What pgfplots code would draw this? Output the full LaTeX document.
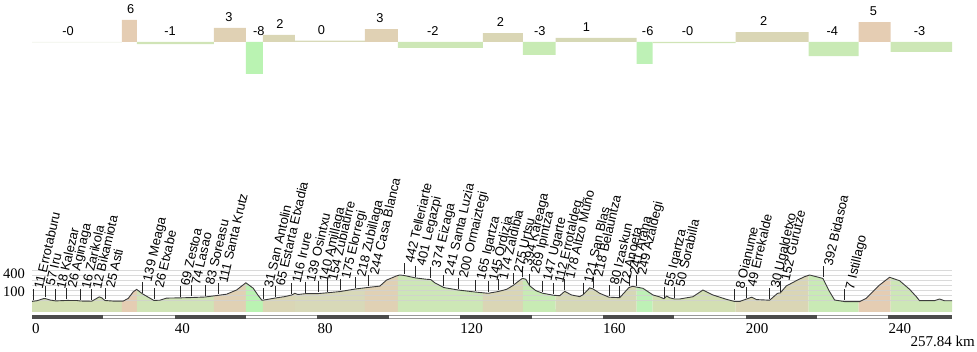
\documentclass[border=0pt]{standalone}
\usepackage{pgfplots}
\pgfplotsset{compat=1.18}
\usepackage{pgfplotstable}
\usepgfplotslibrary{fillbetween}
\usepackage{fontspec}
\setmainfont{Liberation Sans}
\newfontfamily\lserif{Liberation Serif}
\definecolor{cz}{HTML}{D3DFB3}
\definecolor{ct}{HTML}{E5CDB3}
\definecolor{cg1}{HTML}{D0E4B6}
\definecolor{ck3}{HTML}{E0D1B4}
\definecolor{cg8}{HTML}{BAF3B2}
\definecolor{ck2}{HTML}{DAD6B5}
\definecolor{ck0}{HTML}{D8D9B8}
\definecolor{cg2}{HTML}{CDE7B6}
\definecolor{cg3}{HTML}{C8EBB4}
\definecolor{ck1}{HTML}{D6D8B5}
\definecolor{cg6}{HTML}{BEF1B6}
\definecolor{cg4}{HTML}{C9EAB5}
\definecolor{cz0}{HTML}{F0F2EA}
\definecolor{prof}{HTML}{3C3C3C}

\pgfplotstableread{
x a
0.00 10
1.32 20
3.17 55
3.73 57
5.04 33
6.64 18
9.72 26
12.52 25
13.64 16
15.32 15
16.72 12
18.12 60
18.85 85
19.52 70
20.45 25
22.77 15
25.57 15
26.97 60
28.38 170
29.33 210
30.90 139
32.58 80
34.17 26
35.85 30
37.73 65
41.46 69
44.54 74
48.46 83
52.18 111
54.54 130
57.34 200
59.94 320
61.99 230
63.31 115
64.43 30
64.79 31
68.07 65
70.87 90
72.74 116
73.67 145
74.51 125
76.67 139
80.20 140
82.83 154
86.47 175
90.76 218
94.40 244
97.48 265
99.36 365
102.16 435
103.08 450
104.29 442
107.56 401
110.36 380
111.76 374
112.89 320
115.41 241
119.41 200
124.37 165
127.82 145
130.62 174
132.97 210
134.82 275
136.41 350
137.45 394
138.38 380
139.50 269
141.18 190
143.05 147
146.22 112
147.90 105
149.30 178
151.18 117
153.50 90
154.43 121
156.30 235
157.23 218
159.10 145
161.71 80
164.71 72
167.31 241
168.35 262
169.38 249
171.23 228
174.03 117
175.91 85
177.11 55
177.87 100
178.71 70
180.11 50
181.51 50
185.24 88
188.04 200
190.84 117
194.59 45
196.92 8
198.32 8
200.20 49
201.68 80
203.08 40
206.72 30
208.96 145
209.72 152
211.40 267
214.57 367
216.53 422
217.93 450
219.80 422
221.65 392
223.53 172
224.93 33
227.73 7
231.93 5
233.81 62
237.54 283
240.34 412
243.14 355
245.94 212
247.82 90
248.74 22
252.94 22
254.34 50
255.74 20
257.84 20
}\proftab

\pgfplotstableread[col sep=comma]{
x,a,t
0.36,11,11 Errotaburu
3.73,57,57 Iru
6.64,18,18 Kalezar
9.72,26,26 Aginaga
13.64,16,16 Zarikola
16.72,12,12 Bikamiota
20.45,25,25 Asti
30.90,139,139 Meaga
34.17,26,26 Etxabe
41.46,69,69 Zestoa
44.54,74,74 Lasao
48.46,83,83 Soreasu
52.18,111,111 Santa Krutz
64.79,31,31 San Antolin
68.07,65,65 Estarta Etxadia
72.74,116,116 Irure
76.67,139,139 Osintxu
80.20,140,140 Amillaga
82.83,154,154 Zubiaurre
86.47,175,175 Elorregi
90.76,218,218 Zubillaga
94.40,244,244 Casa Blanca
104.29,442,442 Telleriarte
107.56,401,401 Legazpi
111.76,374,374 Eizaga
115.41,241,241 Santa Luzia
119.41,200,200 Ormaiztegi
124.37,165,165 Igartza
127.82,145,145 Ordizia
130.62,174,174 Zaldibia
134.82,275,275 Urtsu
137.45,394,394 Kareaga
139.50,269,269 Ipintza
143.05,147,147 Ugarte
146.22,112,112 Errotaldeg
149.30,178,178 Altzo Muño
154.43,121,121 San Blas
157.23,218,218 Belauntza
161.71,80,80 Izaskun
164.71,72,72 Anoeta
167.31,241,241 Arana
169.38,249,249 Azaldegi
177.11,55,55 Igartza
180.11,50,50 Sorabilla
196.92,8,8 Oianume
200.20,49,49 Errekalde
206.72,30,30 Ugaldetxo
209.72,152,152 Gurutze
221.65,392,392 Bidasoa
227.73,7,7 Istillago
}\labtab

\begin{document}
\begin{tikzpicture}[x=1pt,y=1pt]

% ---------- gradient bars ----------
\begin{axis}[at={(32pt,273pt)}, anchor=south west, scale only axis,
  width=920pt, height=74pt, xmin=0, xmax=257.84, ymin=-10, ymax=10,
  hide axis, clip=false]
\addplot[fill=cz0, draw=none] coordinates {(0,0) (0,-0.15) (25.21,-0.15) (25.21,0)} \closedcycle;
\addplot[fill=ct, draw=none] coordinates {(25.21,0) (25.21,5.95) (29.41,5.95) (29.41,0)} \closedcycle;
\addplot[fill=cg1, draw=none] coordinates {(29.41,0) (29.41,-0.6) (50.98,-0.6) (50.98,0)} \closedcycle;
\addplot[fill=ck3, draw=none] coordinates {(50.98,0) (50.98,3.8) (59.94,3.8) (59.94,0)} \closedcycle;
\addplot[fill=cg8, draw=none] coordinates {(59.94,0) (59.94,-8.6) (64.71,-8.6) (64.71,0)} \closedcycle;
\addplot[fill=ck2, draw=none] coordinates {(64.71,0) (64.71,1.9) (73.67,1.9) (73.67,0)} \closedcycle;
\addplot[fill=ck0, draw=none] coordinates {(73.67,0) (73.67,0.35) (93.28,0.35) (93.28,0)} \closedcycle;
\addplot[fill=ck3, draw=none] coordinates {(93.28,0) (93.28,3.5) (102.52,3.5) (102.52,0)} \closedcycle;
\addplot[fill=cg2, draw=none] coordinates {(102.52,0) (102.52,-1.6) (126.33,-1.6) (126.33,0)} \closedcycle;
\addplot[fill=ck2, draw=none] coordinates {(126.33,0) (126.33,2.4) (137.54,2.4) (137.54,0)} \closedcycle;
\addplot[fill=cg3, draw=none] coordinates {(137.54,0) (137.54,-3.5) (146.78,-3.5) (146.78,0)} \closedcycle;
\addplot[fill=ck1, draw=none] coordinates {(146.78,0) (146.78,1.1) (169.47,1.1) (169.47,0)} \closedcycle;
\addplot[fill=cg6, draw=none] coordinates {(169.47,0) (169.47,-5.9) (173.95,-5.9) (173.95,0)} \closedcycle;
\addplot[fill=cg1, draw=none] coordinates {(173.95,0) (173.95,-0.3) (197.20,-0.3) (197.20,0)} \closedcycle;
\addplot[fill=ck2, draw=none] coordinates {(197.20,0) (197.20,2.7) (217.65,2.7) (217.65,0)} \closedcycle;
\addplot[fill=cg4, draw=none] coordinates {(217.65,0) (217.65,-3.8) (231.65,-3.8) (231.65,0)} \closedcycle;
\addplot[fill=ct, draw=none] coordinates {(231.65,0) (231.65,5.4) (240.62,5.4) (240.62,0)} \closedcycle;
\addplot[fill=cg2, draw=none] coordinates {(240.62,0) (240.62,-2.7) (257.84,-2.7) (257.84,0)} \closedcycle;
\addplot[draw=none, nodes near coords, point meta=explicit symbolic,
  every node near coord/.append style={anchor=base, yshift=6.3pt, inner sep=0pt,
    text=black, font=\fontsize{12.8}{14}\selectfont}] table[meta=l] {
x y l
10.08 0 -0
27.65 5.95 6
38.66 0 -1
55.18 3.8 3
63.59 0 -8
69.47 1.9 2
81.15 0.35 0
97.48 3.5 3
112.32 0 -2
131.29 2.4 2
142.30 0 -3
155.38 1.1 1
172.55 0 -6
183.75 0 -0
205.04 2.7 2
224.29 0 -4
235.85 5.4 5
248.74 0 -3
};
\end{axis}

% ---------- elevation profile ----------
\begin{axis}[at={(32pt,40pt)}, anchor=south west, scale only axis,
  width=920pt, height=40pt, xmin=0, xmax=257.84, ymin=-166.67, ymax=500,
  clip=false, axis line style={draw=none}, ytick=\empty,
  xtick={0,40,...,240}, major tick length=0pt, tick style={draw=none},
  /pgf/number format/assume math mode=true,
  xticklabel style={anchor=base west, inner sep=0pt, yshift=-22pt,
    font=\lserif\fontsize{15}{17}\selectfont}]
\addplot[name path=prof, draw=none] table[x=x, y=a] {\proftab};
\addplot[name path=base, draw=none] coordinates {(0,-166.67) (257.84,-166.67)};
\addplot[fill=cz, draw=none] fill between[of=prof and base, soft clip={domain=0:25.21}];
\addplot[fill=ct, draw=none] fill between[of=prof and base, soft clip={domain=25.21:29.41}];
\addplot[fill=cg1, draw=none] fill between[of=prof and base, soft clip={domain=29.41:50.98}];
\addplot[fill=ck3, draw=none] fill between[of=prof and base, soft clip={domain=50.98:59.94}];
\addplot[fill=cg8, draw=none] fill between[of=prof and base, soft clip={domain=59.94:64.71}];
\addplot[fill=ck2, draw=none] fill between[of=prof and base, soft clip={domain=64.71:73.67}];
\addplot[fill=ck0, draw=none] fill between[of=prof and base, soft clip={domain=73.67:93.28}];
\addplot[fill=ck3, draw=none] fill between[of=prof and base, soft clip={domain=93.28:102.52}];
\addplot[fill=cg2, draw=none] fill between[of=prof and base, soft clip={domain=102.52:126.33}];
\addplot[fill=ck2, draw=none] fill between[of=prof and base, soft clip={domain=126.33:137.54}];
\addplot[fill=cg3, draw=none] fill between[of=prof and base, soft clip={domain=137.54:146.78}];
\addplot[fill=ck1, draw=none] fill between[of=prof and base, soft clip={domain=146.78:169.47}];
\addplot[fill=cg6, draw=none] fill between[of=prof and base, soft clip={domain=169.47:173.95}];
\addplot[fill=cz, draw=none] fill between[of=prof and base, soft clip={domain=173.95:197.20}];
\addplot[fill=ck2, draw=none] fill between[of=prof and base, soft clip={domain=197.20:217.65}];
\addplot[fill=cg4, draw=none] fill between[of=prof and base, soft clip={domain=217.65:231.65}];
\addplot[fill=ct, draw=none] fill between[of=prof and base, soft clip={domain=231.65:240.62}];
\addplot[fill=cg2, draw=none] fill between[of=prof and base, soft clip={domain=240.62:257.84}];
% grid lines
\addplot[black!18, line width=0.8pt, opacity=0.8] coordinates {(0,533) (257.84,533)};
\addplot[black!18, line width=0.8pt, opacity=0.8] coordinates {(0,450) (257.84,450)};
\addplot[black!18, line width=0.8pt, opacity=0.8] coordinates {(0,367) (257.84,367)};
\addplot[black!18, line width=0.8pt, opacity=0.8] coordinates {(0,283) (257.84,283)};
\addplot[black!18, line width=0.8pt, opacity=0.8] coordinates {(0,200) (257.84,200)};
\addplot[black!18, line width=0.8pt, opacity=0.8] coordinates {(0,117) (257.84,117)};
\addplot[black!18, line width=0.8pt, opacity=0.8] coordinates {(0,33) (257.84,33)};
% profile line
\addplot[prof, line width=0.9pt] table[x=x, y=a] {\proftab};
% scale bar
\fill[black!40] (axis cs:0,-216.7) rectangle (axis cs:257.84,-291.7);
\fill[white] (axis cs:0,-238) rectangle (axis cs:257.84,-270);
\fill[black!70] (axis cs:0,-216.7) rectangle (axis cs:20,-291.7);
\fill[black!70] (axis cs:40,-216.7) rectangle (axis cs:60,-291.7);
\fill[black!70] (axis cs:80,-216.7) rectangle (axis cs:100,-291.7);
\fill[black!70] (axis cs:120,-216.7) rectangle (axis cs:140,-291.7);
\fill[black!70] (axis cs:160,-216.7) rectangle (axis cs:180,-291.7);
\fill[black!70] (axis cs:200,-216.7) rectangle (axis cs:220,-291.7);
\fill[black!70] (axis cs:240,-216.7) rectangle (axis cs:257.84,-291.7);
% waypoint ticks and names
\addplot[only marks, mark=|, mark size=5.5pt, black!85, mark options={line width=0.7pt}]
  table[x=x, y expr=\thisrow{a}+110] {\labtab};
\addplot[draw=none, nodes near coords, point meta=explicit symbolic,
  every node near coord/.append style={rotate=77, anchor=north west, inner sep=0pt,
    text=black, font=\fontsize{13}{15}\selectfont}]
  table[x=x, y expr=\thisrow{a}+225, meta=t] {\labtab};
\end{axis}

\node[anchor=base east, inner sep=0pt, font=\lserif\fontsize{14.5}{16}\selectfont] at (25,73) {400};
\node[anchor=base east, inner sep=0pt, font=\lserif\fontsize{14.5}{16}\selectfont] at (25,55.3) {100};
\node[anchor=base east, inner sep=0pt, font=\lserif\fontsize{15}{17}\selectfont] at (975,5) {257.84 km};
\pgfresetboundingbox
\path[use as bounding box] (0,0) rectangle (977,352);
\end{tikzpicture}
\end{document}
